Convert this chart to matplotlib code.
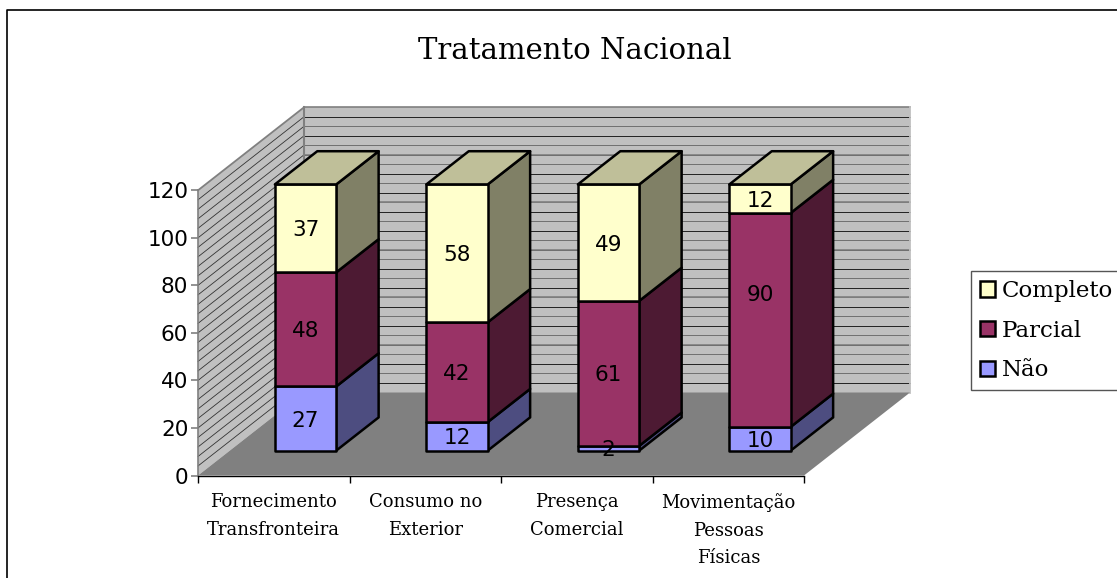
import numpy as np
import matplotlib
matplotlib.use("Agg")
import matplotlib.pyplot as plt
from matplotlib.patches import Polygon, Patch
from matplotlib.lines import Line2D

categories = ["Fornecimento\nTransfronteira", "Consumo no\nExterior", "Presença\nComercial", "Movimentação\nPessoas\nFísicas"]
nao = [27, 12, 2, 10]
parcial = [48, 42, 61, 90]
completo = [37, 58, 49, 12]
yticks = [0, 20, 40, 60, 80, 100, 120]

series = [("Não", nao, "#9999FF", "#4D4D80", "#7373BF"),
          ("Parcial", parcial, "#993366", "#4D1A33", "#73264D"),
          ("Completo", completo, "#FFFFCC", "#808066", "#BFBF99")]

W, H = 1117, 578
fig = plt.figure(figsize=(W / 100, H / 100), dpi=100)
fig.patch.set_facecolor("white")
# chart frame: only top and left show in the crop
fig.add_artist(Line2D([7 / W, 7 / W, 1], [0, 1 - 9.5 / H, 1 - 9.5 / H], transform=fig.transFigure,
                      color="black", lw=1.2))

ax = fig.add_axes([198 / W, (H - 475.5) / H, 606 / W, 285.2 / H])
ax.set_xlim(0, 4)
ax.set_ylim(0, 120)
ax.patch.set_visible(False)

# oblique depth of the box, in axis units
DX = 106 / 151.5
DY = 83 / 2.377
D0, D1 = 0.30, 0.70
BW = 0.405


def proj(x, y, d):
    return (x + d * DX, y + d * DY)


def poly(pts, **kw):
    ax.add_patch(Polygon(pts, closed=True, clip_on=False, **kw))


# walls and floor
poly([proj(0, 0, 1), proj(0, 120, 1), proj(4, 120, 1), proj(4, 0, 1)], fc="#C0C0C0", ec="none", zorder=1)
poly([proj(0, 0, 0), proj(0, 120, 0), proj(0, 120, 1), proj(0, 0, 1)], fc="#C0C0C0", ec="none", zorder=1)
poly([proj(0, 0, 0), proj(4, 0, 0), proj(4, 0, 1), proj(0, 0, 1)], fc="#808080", ec="none", zorder=1.5)

for i, v in enumerate(np.arange(4, 120, 4)):
    col = "#222222" if i % 2 == 0 else "#707070"
    ax.plot(*zip(proj(0, v, 1), proj(4, v, 1)), color=col, lw=0.7, clip_on=False, zorder=1.2)
    ax.plot(*zip(proj(0, v, 0), proj(0, v, 1)), color="#333333", lw=0.6, clip_on=False, zorder=1.2)
for v in yticks:
    if v == 0:
        continue
    ax.plot(*zip(proj(4, v, 1), proj(0, v, 1)), color="#808080", lw=1.2, clip_on=False, zorder=1.3)
ax.plot(*zip(proj(0, 120, 0), proj(0, 120, 1)), color="#808080", lw=1.3, clip_on=False, zorder=1.3)
ax.plot(*zip(proj(0, 0, 1), proj(0, 120, 1)), color="#808080", lw=1.5, clip_on=False, zorder=1.3)
ax.plot(*zip(proj(4, 0, 1), proj(4, 120, 1)), color="#C0C0C0", lw=1.3, clip_on=False, zorder=1.3)

# stacked boxes
for i in range(len(categories)):
    x0 = i + 0.5 - BW / 2
    x1 = i + 0.5 + BW / 2
    base = 0
    for name, vals, front, side, top in series:
        v = vals[i]
        z = 3 + i
        poly([proj(x1, base, D0), proj(x1, base + v, D0), proj(x1, base + v, D1), proj(x1, base, D1)],
             fc=side, ec="black", lw=1.8, joinstyle="round", zorder=z)
        poly([proj(x0, base, D0), proj(x1, base, D0), proj(x1, base + v, D0), proj(x0, base + v, D0)],
             fc=front, ec="black", lw=1.8, joinstyle="round", zorder=z)
        if name == "Completo":
            poly([proj(x0, base + v, D0), proj(x1, base + v, D0), proj(x1, base + v, D1), proj(x0, base + v, D1)],
                 fc=top, ec="black", lw=1.8, joinstyle="round", zorder=z)
        mid = base + v / 2
        # the 90 label sits above the middle of its box in the source chart
        if v == 90:
            mid += 11.5
        lx, ly = proj(i + 0.5, mid, D0)
        ax.annotate(str(v), (lx, ly), xytext=(0, -1.5), textcoords="offset points", ha="center", va="center",
                    fontsize=15.5, color="black", zorder=9, annotation_clip=False)
        base += v

# axes
for s in ["top", "right"]:
    ax.spines[s].set_visible(False)
ax.spines["left"].set_color("#808080")
ax.spines["left"].set_linewidth(1.2)
ax.spines["bottom"].set_color("black")
ax.spines["bottom"].set_linewidth(1)
ax.spines["left"].set_zorder(2)
ax.spines["bottom"].set_zorder(2)
ax.set_yticks(yticks)
ax.tick_params(axis="y", length=5, width=1.2, color="#808080", labelsize=15.5, pad=2)
ax.set_xticks(range(5))
ax.tick_params(axis="x", which="major", length=5, width=1, color="black", labelbottom=False)
ax.set_xticks(np.arange(len(categories)) + 0.5, minor=True)
ax.set_xticklabels(categories, minor=True, family="DejaVu Serif", fontsize=13, linespacing=1.7)
ax.tick_params(axis="x", which="minor", length=0, pad=12.5)

fig.text(575 / W, 1 - 51 / H, "Tratamento Nacional", family="DejaVu Serif", fontsize=21, ha="center", va="center")

handles = [Patch(fc=s[2], ec="black", lw=1.8, label=s[0]) for s in reversed(series)]
leg = ax.legend(handles=handles, loc="upper left", bbox_to_anchor=(971 / W, 1 - 271 / H),
                bbox_transform=fig.transFigure, frameon=True, fancybox=False, edgecolor="#555555",
                framealpha=1, prop={"family": "DejaVu Serif", "size": 16.5}, handlelength=0.68, handleheight=0.68,
                handletextpad=0.3, labelspacing=0.78, borderpad=0.38, borderaxespad=0)
leg.get_frame().set_linewidth(1)
leg.set_zorder(20)

fig.savefig("out.png", dpi=100)
